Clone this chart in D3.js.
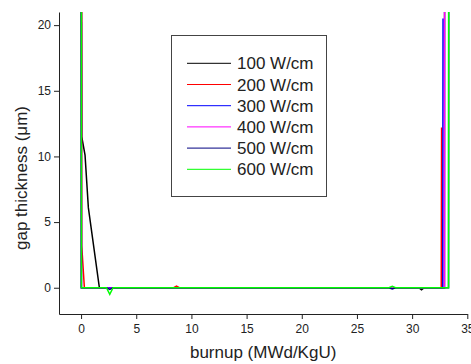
<!DOCTYPE html>
<html>
<head>
<meta charset="utf-8">
<script src="https://cdn.jsdelivr.net/npm/d3@7"></script>
<style>
  body { margin: 0; background: #fff; }
  svg { display: block; font-family: "Liberation Sans", Arial, sans-serif; }
</style>
</head>
<body>
<script>
// series labels and colours
var seriesNames = ["100 W/cm", "200 W/cm", "300 W/cm", "400 W/cm", "500 W/cm", "600 W/cm"];
var seriesColors = ["#000000", "#ff0000", "#0000ff", "#ff00ff", "#000080", "#00ff00"];

// burnup (MWd/KgU) and gap thickness (um) for each power level
var burnup100 = [0, 0.06, 0.36, 0.66, 1.66, 30.6, 30.85, 31.1, 32.93, 32.96];
var gap100    = [60, 11.5, 10.1, 6.1, 0, 0, -0.15, 0, 0, 60];
var burnup200 = [0, 0.06, 0.3, 8.4, 8.65, 8.9, 32.64, 32.67];
var gap200    = [60, 3.2, 0, 0, 0.12, 0, 0, 12.2];
var burnup300 = [0, 0.03, 32.77, 32.8];
var gap300    = [60, 0, 0, 20.5];
var burnup400 = [0, 0.03, 2.3, 2.6, 2.9, 32.93, 32.96];
var gap400    = [60, 0, 0, -0.05, 0, 0, 60];
var burnup500 = [0, 0.03, 2.3, 2.6, 2.9, 27.9, 28.2, 28.5, 33.3, 33.34];
var gap500    = [60, 0, 0, -0.12, 0, 0, -0.1, 0, 0, 60];
var burnup600 = [0, 0.03, 2.3, 2.6, 2.9, 27.9, 28.2, 28.5, 33.3, 33.34];
var gap600    = [60, 0, 0, -0.5, 0, 0, 0.1, 0, 0, 60];

var xTicks = [0, 5, 10, 15, 20, 25, 30, 35];
var yTicks = [0, 5, 10, 15, 20];

var allX = [burnup100, burnup200, burnup300, burnup400, burnup500, burnup600];
var allY = [gap100, gap200, gap300, gap400, gap500, gap600];

var width = 471, height = 364;
// plot box (note: "top" is taken by window.top, so use other names)
var plotLeft = 59, plotRight = 467.3, plotTop = 12, plotBottom = 314;

var svg = d3.select("body").append("svg").attr("width", width).attr("height", height);

var x = d3.scaleLinear().domain([-2, 35]).range([plotLeft, plotRight]);
var y = d3.scaleLinear().domain([-2, 21]).range([plotBottom, plotTop]);

svg.append("clipPath").attr("id", "plot")
  .append("rect").attr("x", plotLeft).attr("y", plotTop)
  .attr("width", plotRight - plotLeft).attr("height", plotBottom - plotTop);

// axes
var xAxis = svg.append("g").attr("transform", "translate(0," + plotBottom + ")")
  .call(d3.axisBottom(x).tickValues(xTicks).tickSize(5).tickSizeOuter(0).tickPadding(5));
var yAxis = svg.append("g").attr("transform", "translate(" + plotLeft + ",0)")
  .call(d3.axisLeft(y).tickValues(yTicks).tickSize(5).tickSizeOuter(0).tickPadding(3));
[xAxis, yAxis].forEach(function(a){
  a.selectAll("text").attr("font-size", 12).attr("fill", "#222").style("font-family", "Liberation Sans, Arial, sans-serif");
  a.selectAll("line, path").attr("stroke", "#222");
});

svg.append("text").attr("x", (plotLeft + plotRight) / 2).attr("y", 358)
  .attr("text-anchor", "middle").attr("font-size", 17).attr("fill", "#222")
  .text("burnup (MWd/KgU)");
svg.append("text").attr("transform", "translate(27,178) rotate(-90)")
  .attr("text-anchor", "middle").attr("font-size", 17).attr("fill", "#222")
  .text("gap thickness (\u03bcm)");

// lines
var line = d3.line().x(function(d){ return x(d[0]); }).y(function(d){ return y(d[1]); });
var lines = svg.append("g").attr("clip-path", "url(#plot)");
allX.forEach(function(xs, i){
  var pts = xs.map(function(v, j){ return [v, allY[i][j]]; });
  lines.append("path").datum(pts)
    .attr("d", line)
    .attr("fill", "none")
    .attr("stroke", seriesColors[i])
    .attr("stroke-width", 1.5);
});

// legend
var legend = svg.append("g");
legend.append("rect").attr("x", 171.5).attr("y", 35.5).attr("width", 155).attr("height", 161)
  .attr("fill", "#fff").attr("stroke", "#444").attr("stroke-width", 1);
seriesNames.forEach(function(name, i){
  var ly = 63.3 + i * 21.2;
  legend.append("line").attr("x1", 187).attr("x2", 231).attr("y1", ly).attr("y2", ly)
    .attr("stroke", seriesColors[i]).attr("stroke-width", 1);
  legend.append("text").attr("x", 237).attr("y", ly).attr("dy", "0.36em")
    .attr("font-size", 17).attr("fill", "#222").text(name);
});
</script>
</body>
</html>
